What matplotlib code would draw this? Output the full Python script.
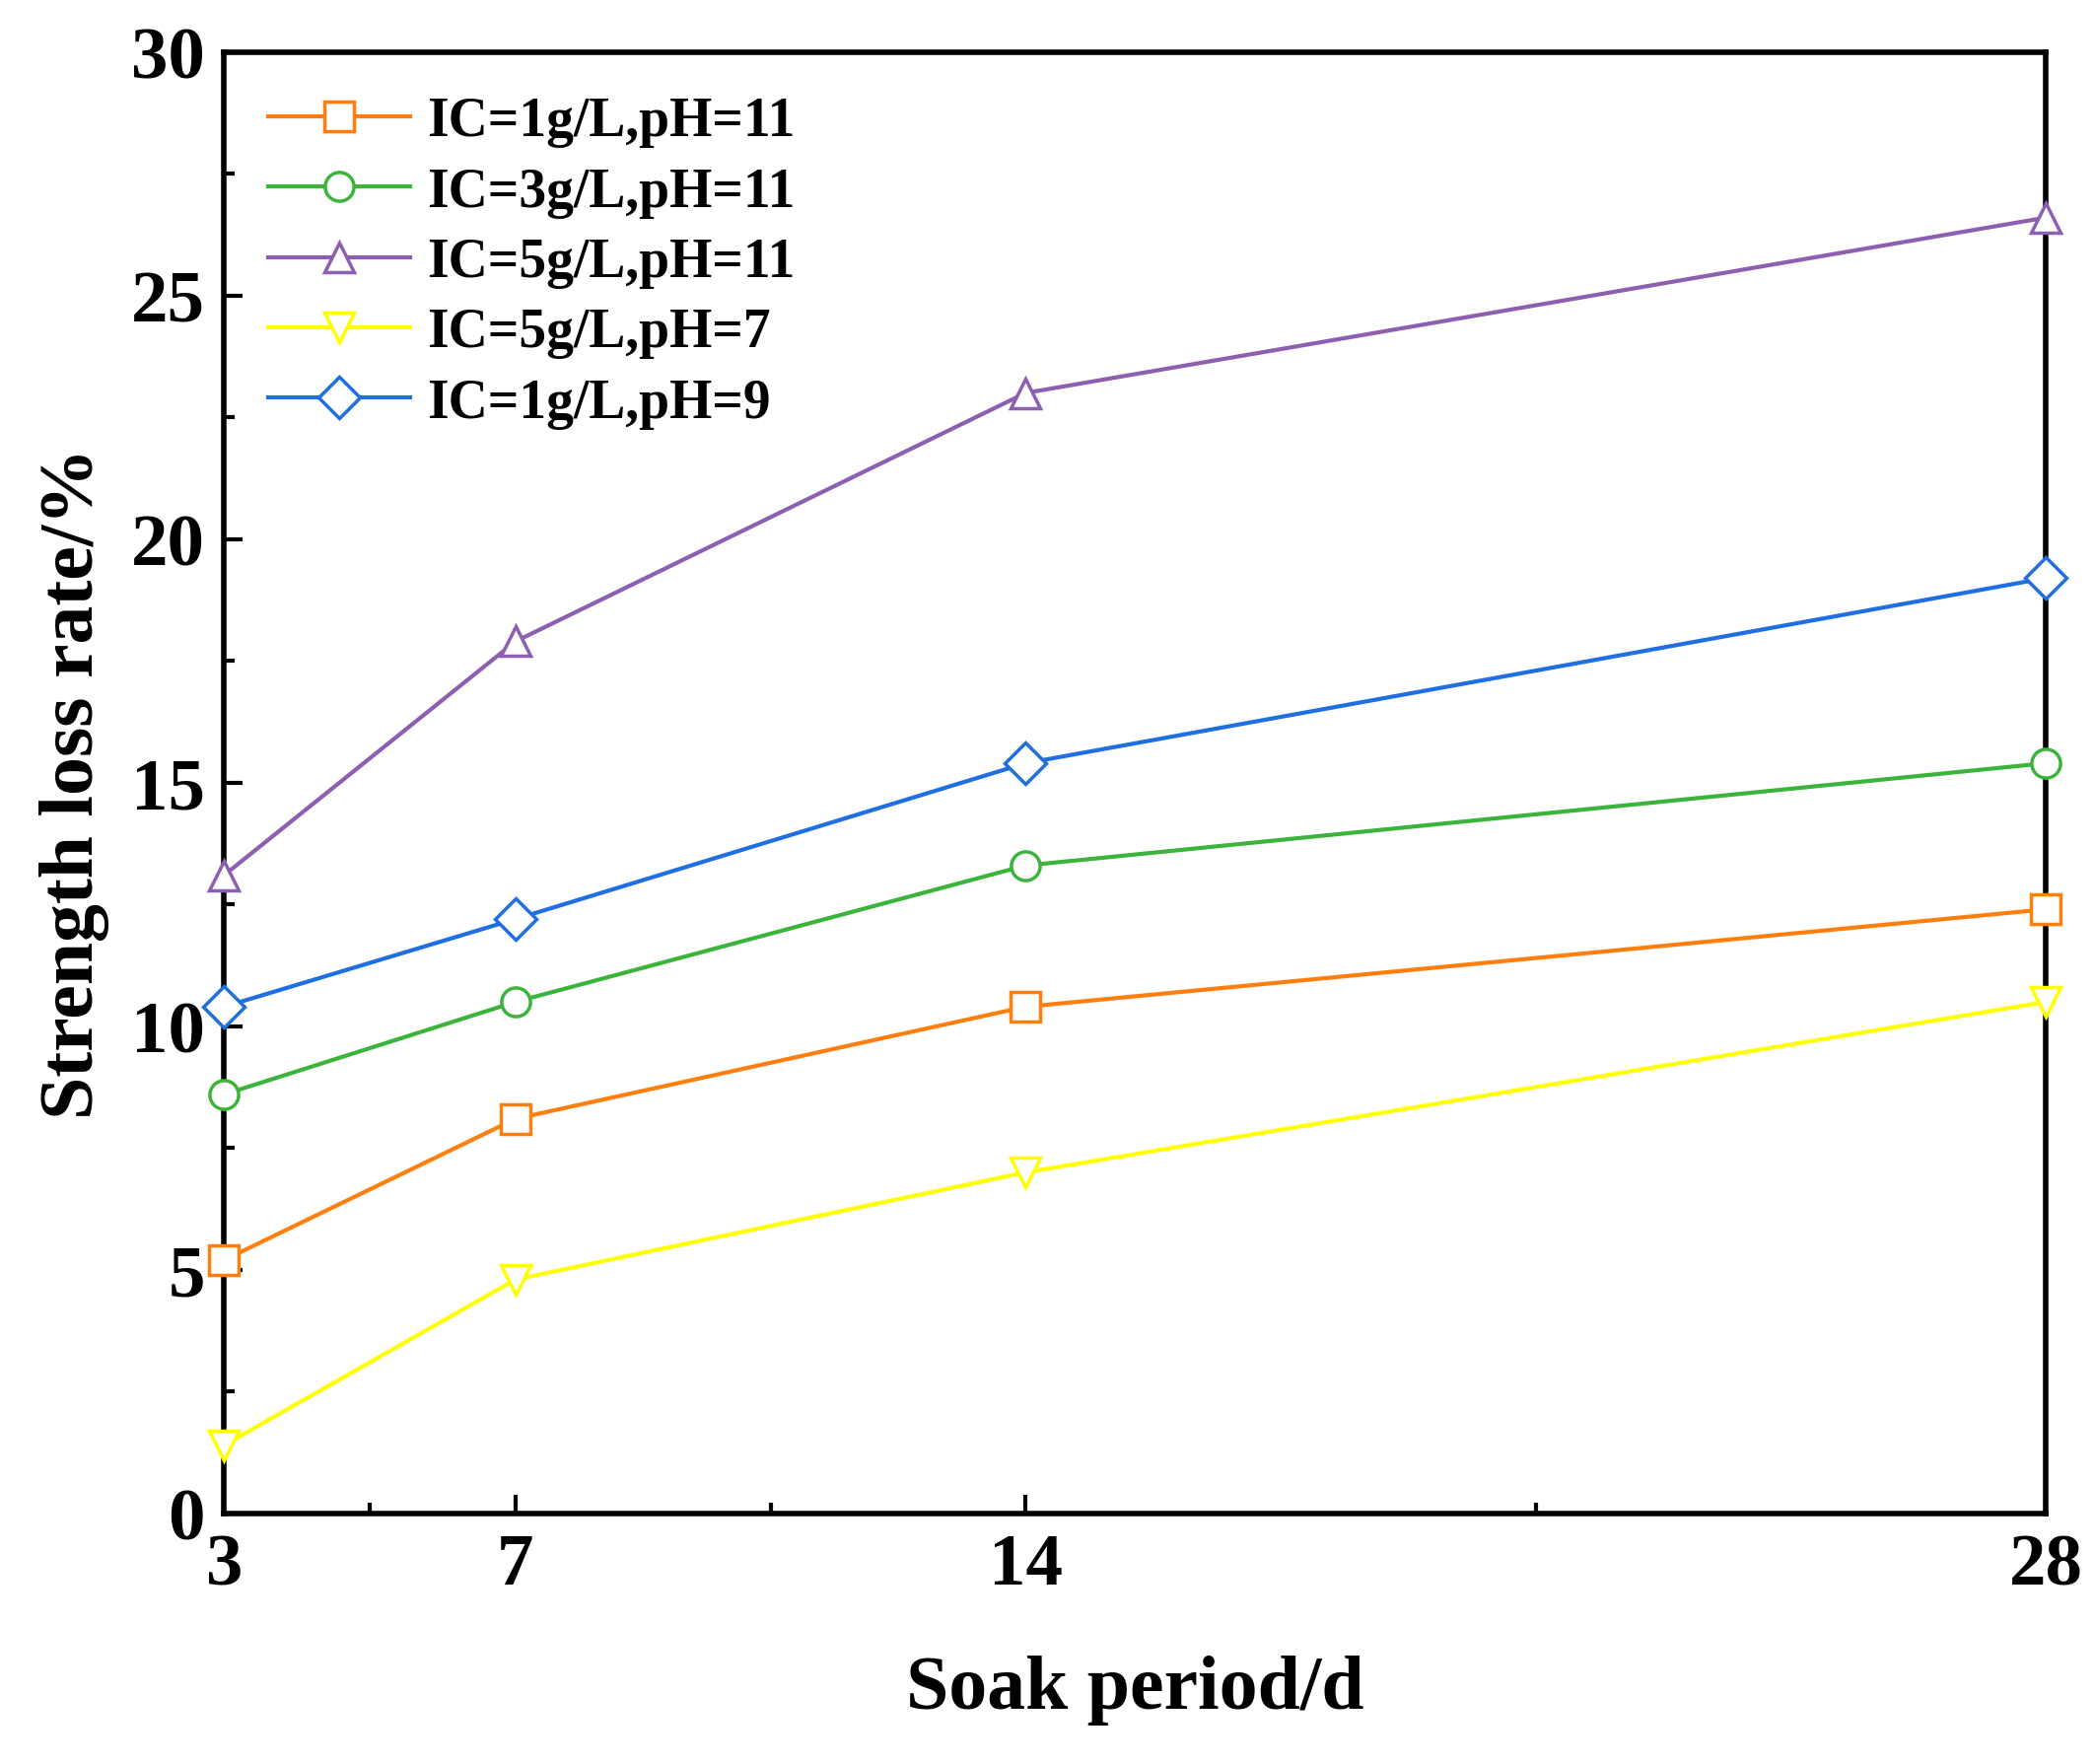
import matplotlib.pyplot as plt
from matplotlib.ticker import MultipleLocator, FixedLocator

days = [3, 7, 14, 28]
labels = ["IC=1g/L,pH=11", "IC=3g/L,pH=11", "IC=5g/L,pH=11", "IC=5g/L,pH=7", "IC=1g/L,pH=9"]
ic1_ph11 = [5.2, 8.1, 10.4, 12.4]
ic3_ph11 = [8.6, 10.5, 13.3, 15.4]
ic5_ph11 = [13.1, 17.9, 23.0, 26.6]
ic5_ph7 = [1.4, 4.8, 7.0, 10.5]
ic1_ph9 = [10.4, 12.2, 15.4, 19.2]

series = [ic1_ph11, ic3_ph11, ic5_ph11, ic5_ph7, ic1_ph9]
colors = ["#ff7f0e", "#3cb43c", "#8c5fb0", "#ffff00", "#1f6fe0"]
markers = ["s", "o", "^", "v", "D"]

plt.rcParams["font.family"] = "Liberation Serif"
plt.rcParams["font.weight"] = "bold"

fig = plt.figure(figsize=(21.24, 17.9), dpi=100)
ax = fig.add_axes([0.107, 0.142, 0.870, 0.828])

for vals, lab, c, m in zip(series, labels, colors, markers):
    ax.plot(days, vals, color=c, marker=m, markersize=21, markerfacecolor="white",
            markeredgewidth=2.5, linewidth=3, label=lab, clip_on=False, zorder=3)

ax.set_xlim(3, 28)
ax.set_ylim(0, 30)
ax.set_xticks(days)
ax.xaxis.set_minor_locator(FixedLocator([5, 10.5, 21]))
ax.yaxis.set_major_locator(MultipleLocator(5))
ax.yaxis.set_minor_locator(MultipleLocator(2.5))
ax.tick_params(which="both", direction="in", width=3, labelsize=54, pad=14)
ax.tick_params(which="major", length=14)
ax.tick_params(which="minor", length=8)
for s in ax.spines.values():
    s.set_linewidth(4)

ax.set_xlabel("Soak period/d", fontsize=56, fontweight="bold", labelpad=40)
ax.set_ylabel("Strength loss rate/%", fontsize=56, fontweight="bold", labelpad=16)

ax.legend(loc="upper left", frameon=False, fontsize=40, handlelength=2.6,
          handletextpad=0.3, labelspacing=0.35, borderaxespad=0.4)

fig.savefig("out.png", dpi=100)
